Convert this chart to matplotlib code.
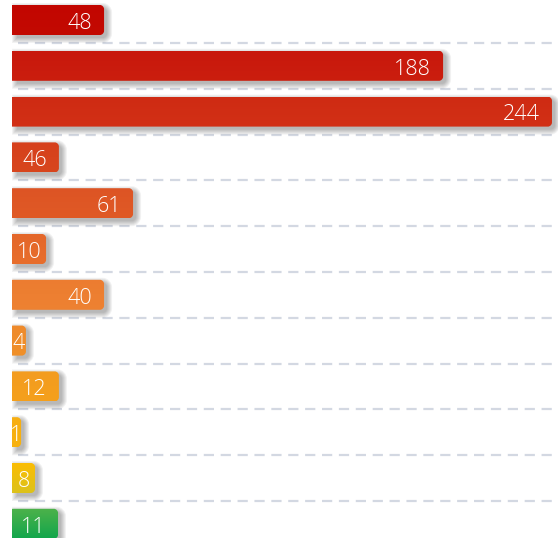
import numpy as np
import matplotlib
matplotlib.use("Agg")
from matplotlib import pyplot as plt
from matplotlib.path import Path
from matplotlib.patches import PathPatch
from matplotlib.colors import to_rgb

# values shown on the bars, top to bottom
labels = ["48", "188", "244", "46", "61", "10", "40", "4", "12", "1", "8", "11"]
# bar lengths (the drawing is not proportional to the labels)
bar_length = [41.6, 194.8, 244.0, 21.2, 54.7, 15.4, 41.6, 6.3, 21.2, 4.1, 10.4, 20.8]

top_colors = ["#c20600", "#c8180c", "#cf2b13", "#d6401c", "#dd5424", "#e4672a",
              "#ec7c30", "#ee8a2c", "#f39c20", "#f7ae12", "#fbbd04", "#4db24a"]
bot_colors = ["#c20a02", "#cb1e0e", "#d23016", "#d8461e", "#e05a26", "#e86e2c",
              "#ee8232", "#f09028", "#f5a01c", "#f8b20e", "#dcc21a", "#12a64c"]

W, H = 558, 538
px_x = 2.213      # pixels per x unit
px_y = 45.8       # pixels per category
y_first = 20      # pixel centre of first bar

fig = plt.figure(figsize=(W / 100, H / 100), dpi=100)
ax = fig.add_axes([0, 0, 1, 1])
ax.set_xlim(-12 / px_x, (W - 12) / px_x)
ax.set_ylim((H - y_first) / px_y, -y_first / px_y)
ax.axis("off")

n = len(labels)
ypos = np.arange(n)
bh = 30 / px_y


def bar_path(x0, x1, y0, y1, r=4):
    # square left corners, rounded right corners (r in pixels)
    rx = min(r / px_x, (x1 - x0) / 2)
    ry = r / px_y
    k = 0.45
    verts = [(x0, y0), (x1 - rx, y0),
             (x1 - rx * k, y0), (x1, y0 + ry * (1 - k)), (x1, y0 + ry),
             (x1, y1 - ry),
             (x1, y1 - ry * (1 - k)), (x1 - rx * k, y1), (x1 - rx, y1),
             (x0, y1), (x0, y0)]
    codes = [Path.MOVETO, Path.LINETO,
             Path.CURVE4, Path.CURVE4, Path.CURVE4,
             Path.LINETO,
             Path.CURVE4, Path.CURVE4, Path.CURVE4,
             Path.LINETO, Path.CLOSEPOLY]
    return Path(verts, codes)


# dashed separators between the bars
ax.hlines(ypos[:-1] + 0.5, 6 / px_x, W / px_x, colors="#d3d8e2", linewidth=1.6,
          linestyles=(0, (4.6, 3.0)), zorder=1)

for i in range(n):
    y0, y1 = ypos[i] - bh / 2, ypos[i] + bh / 2
    x0, x1 = 0, bar_length[i]

    # soft drop shadow
    dx, dy = 3 / px_x, 3 / px_y
    for e in range(6):
        ex, ey = e / px_x, e / px_y
        sp = bar_path(x0 + dx - ex + 2 / px_x, x1 + dx + ex, y0 + dy - ey, y1 + dy + ey, r=4 + e)
        ax.add_patch(PathPatch(sp, facecolor="#000000", edgecolor="none", alpha=0.05, zorder=2))

    patch = PathPatch(bar_path(x0, x1, y0, y1), facecolor="none", edgecolor="none", zorder=3)
    ax.add_patch(patch)
    c0 = np.array(to_rgb(top_colors[i]))
    c1 = np.array(to_rgb(bot_colors[i]))
    t = np.linspace(0, 1, 32)[:, None]
    grad = (c0 * (1 - t) + c1 * t)[:, None, :]
    im = ax.imshow(grad, extent=(x0, x1, y1, y0), aspect="auto", zorder=3,
                   interpolation="bilinear")
    im.set_clip_path(patch)

    w_px = bar_length[i] * px_x
    if w_px > 40:
        ax.text(x1 - 12 / px_x, ypos[i] + 0.07, labels[i], ha="right", va="center",
                color="white", fontsize=15.5, family="Open Sans", fontweight="light", zorder=5)
    else:
        ax.text(x1 / 2, ypos[i] + 0.07, labels[i], ha="center", va="center",
                color="white", fontsize=15.5, family="Open Sans", fontweight="light", zorder=5)

ax.set_xlim(-12 / px_x, (W - 12) / px_x)
ax.set_ylim((H - y_first) / px_y, -y_first / px_y)

fig.savefig("out.png", dpi=100)
